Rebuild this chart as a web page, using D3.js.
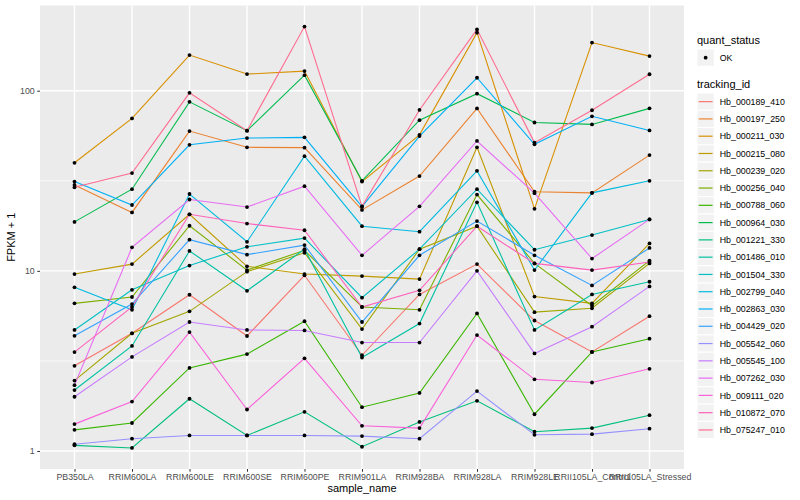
<!DOCTYPE html>
<html>

<head>
    <title>FPKM by sample</title>
    <meta charset="UTF-8">
    <style type="text/css">
        body {
            margin: 0;
            background: #ffffff;
        }

        text {
            font-family: "Liberation Sans", Arial, Helvetica, sans-serif;
        }

        .line {
            fill: none;
            stroke-width: 1.1px;
        }
    </style>
    <script src="https://d3js.org/d3.v7.min.js"></script>
</head>

<body>
    <script type="text/javascript">
        // sample names on the x axis
        var samples = ["PB350LA", "RRIM600LA", "RRIM600LE", "RRIM600SE", "RRIM600PE", "RRIM901LA",
            "RRIM928BA", "RRIM928LA", "RRIM928LE", "RRII105LA_Control", "RRII105LA_Stressed"];

        // genes, in legend order
        var trackingIds = ["Hb_000189_410", "Hb_000197_250", "Hb_000211_030", "Hb_000215_080",
            "Hb_000239_020", "Hb_000256_040", "Hb_000788_060", "Hb_000964_030", "Hb_001221_330",
            "Hb_001486_010", "Hb_001504_330", "Hb_002799_040", "Hb_002863_030", "Hb_004429_020",
            "Hb_005542_060", "Hb_005545_100", "Hb_007262_030", "Hb_009111_020", "Hb_010872_070",
            "Hb_075247_010"];

        // FPKM + 1 per gene (rows follow trackingIds, columns follow samples)
        var fpkm = [
            [2.97, 4.5, 7.37, 4.35, 9.45, 3.4, 7.4, 10.9, 5.3, 3.55, 5.6],
            [30, 21.1, 59.7, 48.5, 48.3, 21.8, 33.6, 79.7, 27.5, 27.1, 43.9],
            [39.8, 70.2, 157.7, 123.7, 128.5, 31.3, 56.9, 210, 22.1, 185, 155.6],
            [9.6, 10.9, 20.6, 10.6, 9.6, 9.35, 9.0, 48.5, 7.2, 6.6, 14.2],
            [2.46, 4.5, 5.96, 9.9, 12.6, 4.75, 13.2, 17.7, 5.9, 6.2, 11.0],
            [6.6, 7.16, 17.8, 10.1, 13.0, 6.3, 6.08, 26.5, 11, 6.4, 11.4],
            [1.31, 1.43, 2.89, 3.45, 5.25, 1.75, 2.1, 5.8, 1.6, 3.55, 4.2],
            [18.7, 28.4, 86.7, 60, 122, 31.6, 68.6, 96.3, 66.6, 65, 79.8],
            [1.075, 1.04, 1.95, 1.22, 1.65, 1.056, 1.45, 1.9, 1.28, 1.34, 1.58],
            [2.18, 3.83, 12.9, 7.75, 13.2, 3.3, 5.1, 24, 4.7, 7.4, 8.7],
            [4.7, 7.85, 10.7, 13.6, 15.2, 7.1, 13.2, 28.4, 13.1, 15.8, 19.3],
            [8.1, 6.08, 26.7, 14.5, 43.3, 17.7, 16.5, 35.9, 10.1, 27.1, 31.6],
            [31.3, 23.2, 50.1, 54.6, 55.1, 22.7, 56, 118, 50.4, 72.1, 60.2],
            [4.36, 6.54, 14.9, 12.3, 13.9, 5.2, 12.2, 18.9, 12.2, 8.3, 13.4],
            [1.09, 1.17, 1.22, 1.22, 1.22, 1.21, 1.17, 2.15, 1.23, 1.24, 1.33],
            [2.0, 3.33, 5.2, 4.7, 4.67, 4.0, 4.0, 10.0, 3.48, 4.9, 8.2],
            [2.32, 13.5, 24.9, 22.6, 29.5, 12.2, 22.8, 52.6, 27, 11.7, 19.3],
            [1.41, 1.88, 4.57, 1.7, 3.27, 1.38, 1.34, 4.4, 2.5, 2.4, 2.86],
            [3.54, 6.3, 20.6, 18.3, 16.8, 6.3, 7.8, 17.7, 11, 10.1, 11.2],
            [29.1, 34.9, 97.3, 60, 227, 22.8, 78.2, 219, 51.5, 77.9, 123.4]
        ];

        var yTicks = [1, 10, 100];
        var quantStatus = ["OK"];

        // ggplot hue palette for 20 levels
        var palette = ["#F8766D", "#EA8331", "#D89000", "#C09B00", "#A3A500", "#7CAE00", "#39B600",
            "#00BB4E", "#00BF7D", "#00C1A3", "#00BFC4", "#00BAE0", "#00B0F6", "#35A2FF", "#9590FF",
            "#C77CFF", "#E76BF3", "#FA62DB", "#FF62BC", "#FF6C91"];

        var W = 800, H = 500;
        var panel = { left: 40, right: 684, top: 5.5, bottom: 469 };

        var svg = d3.select("body").append("svg")
            .attr("width", W)
            .attr("height", H);

        svg.append("rect").attr("width", W).attr("height", H).attr("fill", "#ffffff");

        var series = trackingIds.map(function(id, i) {
            return { id: id, color: palette[i], values: fpkm[i].map(function(v, j) {
                return { sample: samples[j], value: v };
            }) };
        });

        var x = d3.scalePoint()
            .domain(samples)
            .range([panel.left, panel.right])
            .padding(0.6);

        // log scale with ggplot style 5% expansion
        var all = d3.merge(fpkm);
        var lo = Math.log10(d3.min(all)), hi = Math.log10(d3.max(all));
        var pad = (hi - lo) * 0.05;
        var y = d3.scaleLog()
            .domain([Math.pow(10, lo - pad), Math.pow(10, hi + pad)])
            .range([panel.bottom, panel.top]);

        // panel background
        svg.append("rect")
            .attr("x", panel.left).attr("y", panel.top)
            .attr("width", panel.right - panel.left)
            .attr("height", panel.bottom - panel.top)
            .attr("fill", "#EBEBEB");

        var grid = svg.append("g");
        //minor grid: half way between decades
        [Math.sqrt(10), Math.sqrt(1000)].forEach(function(v) {
            grid.append("line")
                .attr("x1", panel.left).attr("x2", panel.right)
                .attr("y1", y(v)).attr("y2", y(v))
                .attr("stroke", "#ffffff").attr("stroke-width", 0.7);
        });
        yTicks.forEach(function(v) {
            grid.append("line")
                .attr("x1", panel.left).attr("x2", panel.right)
                .attr("y1", y(v)).attr("y2", y(v))
                .attr("stroke", "#ffffff").attr("stroke-width", 1.4);
        });
        samples.forEach(function(s) {
            grid.append("line")
                .attr("x1", x(s)).attr("x2", x(s))
                .attr("y1", panel.top).attr("y2", panel.bottom)
                .attr("stroke", "#ffffff").attr("stroke-width", 1.4);
        });

        var line = d3.line()
            .x(function(d) { return x(d.sample); })
            .y(function(d) { return y(d.value); });

        svg.append("g").selectAll("path")
            .data(series)
            .enter().append("path")
            .attr("class", "line")
            .attr("stroke", function(d) { return d.color; })
            .attr("d", function(d) { return line(d.values); });

        svg.append("g").selectAll("g")
            .data(series)
            .enter().append("g")
            .selectAll("circle")
            .data(function(d) { return d.values; })
            .enter().append("circle")
            .attr("cx", function(d) { return x(d.sample); })
            .attr("cy", function(d) { return y(d.value); })
            .attr("r", 1.9)
            .attr("fill", "#000000");

        // axes
        var xAxis = d3.axisBottom(x).tickSize(2.75).tickPadding(2.5);
        var gx = svg.append("g")
            .attr("transform", "translate(0," + panel.bottom + ")")
            .call(xAxis);
        var yAxis = d3.axisLeft(y).tickValues(yTicks).tickFormat(d3.format("d"))
            .tickSize(2.75).tickPadding(2.5);
        var gy = svg.append("g")
            .attr("transform", "translate(" + panel.left + ",0)")
            .call(yAxis);
        [gx, gy].forEach(function(g) {
            g.select(".domain").remove();
            g.selectAll(".tick line").attr("stroke", "#333333").attr("stroke-width", 1);
            g.selectAll(".tick text").attr("fill", "#4D4D4D")
                .style("font-size", "8.8px")
                .style("font-family", "'Liberation Sans', Arial, sans-serif");
        });

        svg.append("text") // x axis title
            .attr("x", (panel.left + panel.right) / 2)
            .attr("y", 492)
            .style("text-anchor", "middle")
            .style("font-size", "11px")
            .text("sample_name");

        svg.append("text") // y axis title
            .attr("transform", "translate(15," + (panel.top + panel.bottom) / 2 + ") rotate(-90)")
            .style("text-anchor", "middle")
            .style("font-size", "11px")
            .text("FPKM + 1");

        // legends
        var lx = 697, key = 17.28;
        var leg = svg.append("g");
        leg.append("text").attr("x", lx).attr("y", 44).style("font-size", "11px").text("quant_status");
        quantStatus.forEach(function(q, i) {
            var ky = 49 + i * key;
            leg.append("rect").attr("x", lx).attr("y", ky).attr("width", key).attr("height", key)
                .attr("fill", "#F2F2F2").attr("stroke", "#ffffff");
            leg.append("circle").attr("cx", lx + key / 2).attr("cy", ky + key / 2).attr("r", 1.9)
                .attr("fill", "#000000");
            leg.append("text").attr("x", lx + key + 5.5).attr("y", ky + key / 2 + 3.1)
                .style("font-size", "8.8px").text(q);
        });

        leg.append("text").attr("x", lx).attr("y", 88).style("font-size", "11px").text("tracking_id");
        series.forEach(function(s, i) {
            var ky = 93 + i * key;
            leg.append("rect").attr("x", lx).attr("y", ky).attr("width", key).attr("height", key)
                .attr("fill", "#F2F2F2").attr("stroke", "#ffffff");
            leg.append("line").attr("x1", lx + 1.7).attr("x2", lx + key - 1.7)
                .attr("y1", ky + key / 2).attr("y2", ky + key / 2)
                .attr("stroke", s.color).attr("stroke-width", 1.2);
            leg.append("text").attr("x", lx + key + 5.5).attr("y", ky + key / 2 + 3.1)
                .style("font-size", "8.8px").text(s.id);
        });
    </script>

</body>

</html>
